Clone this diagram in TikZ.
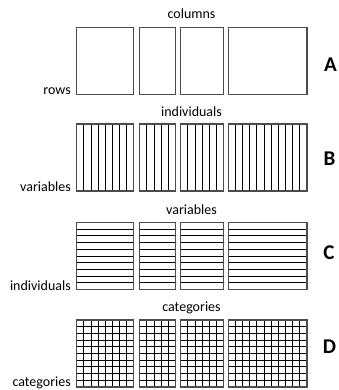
\documentclass[tikz,border=0pt]{standalone}
\usepackage{fontspec}
\setmainfont{Carlito}

% one row of four blocks: #1 top edge, #2 = 1 for column rules, #3 = 1 for row rules
\newcommand{\blockrow}[3]{%
  \foreach \bx/\bn in {76.7/8,139.7/5,180.7/6,228.3/11}{%
    \pgfmathsetmacro{\bxe}{\bx+\bn*7.15}%
    \pgfmathtruncatemacro{\bm}{\bn-1}%
    \ifnum#2=1
      \foreach \k in {1,...,\bm}{\draw[rule] ({\bx+\k*7.15},#1) -- ++(0,67);}%
    \fi
    \ifnum#3=1
      \foreach \k in {1,...,9}{\draw[rule] (\bx,{#1+\k*6.7}) -- (\bxe,{#1+\k*6.7});}%
    \fi
    \draw[frame] (\bx,#1) rectangle (\bxe,{#1+67});
  }%
}

\begin{document}
\begin{tikzpicture}[x=1pt,y=-1pt,
  frame/.style={draw=black!70, line width=1.1pt},
  rule/.style={draw=black, line width=0.9pt},
  axislabel/.style={font=\fontsize{14}{16}\selectfont, inner sep=0pt},
  tag/.style={font=\fontsize{21}{24}\selectfont\bfseries, inner sep=0pt}]
\useasboundingbox (0,0) rectangle (339,390);

% A: plain table
\blockrow{27.5}{0}{0}
\node[axislabel, anchor=base] (topA) at (191.5,19) {columns};
\node[axislabel, anchor=base east] (sideA) at (71,95) {rows};
\node[tag] (tagA) at (330.5,65) {A};

% B: column rules
\blockrow{124}{1}{0}
\node[axislabel, anchor=base] (topB) at (191.5,116.5) {individuals};
\node[axislabel, anchor=base east] (sideB) at (71,191.5) {variables};
\node[tag] (tagB) at (329.5,158.7) {B};

% C: row rules
\blockrow{222.5}{0}{1}
\node[axislabel, anchor=base] (topC) at (191.5,214) {variables};
\node[axislabel, anchor=base east] (sideC) at (71,290) {individuals};
\node[tag] (tagC) at (329,253) {C};

% D: full grid
\blockrow{320}{1}{1}
\node[axislabel, anchor=base] (topD) at (191.5,311) {categories};
\node[axislabel, anchor=base east] (sideD) at (71,386.5) {categories};
\node[tag] (tagD) at (329.5,347) {D};
\end{tikzpicture}
\end{document}
